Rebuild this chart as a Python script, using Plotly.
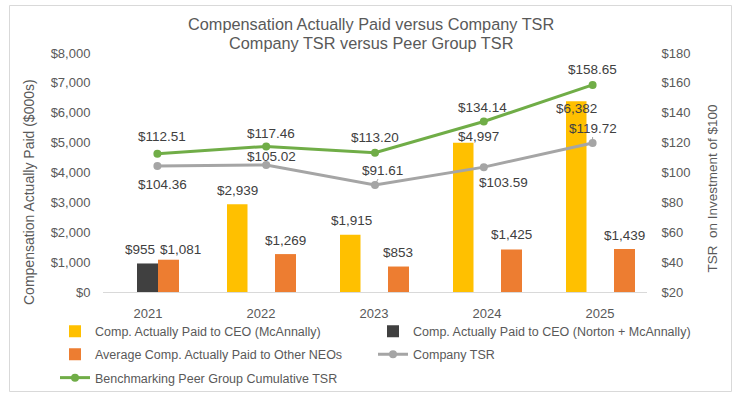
import plotly.graph_objects as go

# ---------------- data ----------------
years = ["2021", "2022", "2023", "2024", "2025"]
cap_ceo_mcannally = [None, 2939, 1915, 4997, 6382]
cap_ceo_norton_mcannally = [955, None, None, None, None]
avg_cap_other_neos = [1081, 1269, 853, 1425, 1439]
company_tsr = [104.36, 105.02, 91.61, 103.59, 119.72]
peer_tsr = [112.51, 117.46, 113.20, 134.14, 158.65]

left_ticks = [0, 1000, 2000, 3000, 4000, 5000, 6000, 7000, 8000]
left_tick_text = ["$0", "$1,000", "$2,000", "$3,000", "$4,000", "$5,000", "$6,000", "$7,000", "$8,000"]
right_ticks = [20, 40, 60, 80, 100, 120, 140, 160, 180]
right_tick_text = ["$20", "$40", "$60", "$80", "$100", "$120", "$140", "$160", "$180"]

# ---------------- style ----------------
W, H = 740, 396
PL, PR, PT, PB = 103, 647, 53, 292  # plot area in px
TXT = "#595959"
LBLC = "#404040"
FONT = "Liberation Sans, Arial, sans-serif"
C_YEL, C_DARK, C_ORG = "#FFC000", "#404040", "#ED7D31"
C_GRAY, C_GREEN = "#A5A5A5", "#70AD47"
BAR_PITCH = 113.0   # px between bar-group centres
BAR_C0 = 148.0      # px of first bar-group centre


def px2x(px):
    return (px - PL) / (PR - PL)


def px2y(py):
    return (PB - py) / (PB - PT)


u = 1.0 / BAR_PITCH
fig = go.Figure()
fig.add_trace(go.Bar(x=years, y=cap_ceo_mcannally, name="Comp. Actually Paid to CEO (McAnnally)",
                     marker=dict(color=C_YEL, line=dict(width=0)), offset=-34 * u, width=20.5 * u,
                     xaxis="x", yaxis="y", legend="legend", hoverinfo="skip"))
fig.add_trace(go.Bar(x=years, y=cap_ceo_norton_mcannally, name="Comp. Actually Paid to CEO (Norton + McAnnally)",
                     marker=dict(color=C_DARK, line=dict(width=0)), offset=-11 * u, width=21 * u,
                     xaxis="x", yaxis="y", legend="legend", hoverinfo="skip"))
fig.add_trace(go.Bar(x=years, y=avg_cap_other_neos, name="Average Comp. Actually Paid to Other NEOs",
                     marker=dict(color=C_ORG, line=dict(width=0)),
                     offset=[10 * u, 14 * u, 14 * u, 14 * u, 14 * u], width=21 * u,
                     xaxis="x", yaxis="y", legend="legend2", hoverinfo="skip"))
fig.add_trace(go.Scatter(x=years, y=company_tsr, name="Company TSR", mode="lines+markers",
                         line=dict(color=C_GRAY, width=3), marker=dict(color=C_GRAY, size=8),
                         xaxis="x2", yaxis="y2", legend="legend2", hoverinfo="skip"))
fig.add_trace(go.Scatter(x=years, y=peer_tsr, name="Benchmarking Peer Group Cumulative TSR", mode="lines+markers",
                         line=dict(color=C_GREEN, width=3), marker=dict(color=C_GREEN, size=8),
                         xaxis="x2", yaxis="y2", legend="legend3", hoverinfo="skip"))

ann = []
LBL = dict(family=FONT, size=13.5, color=LBLC)
C = dict(xanchor="center", yanchor="middle")

# bar value labels: (xshift, yshift) in px relative to category centre / bar top
yel_sh = [None, (-24, 14), (-23, 14), (-8.5, 6), (-24, -7)]
for i, v in enumerate(cap_ceo_mcannally):
    if v is None:
        continue
    dx, dy = yel_sh[i]
    ann.append(dict(x=i, y=v, xref="x", yref="y", text=f"${v:,}", showarrow=False,
                    xshift=dx, yshift=dy, font=LBL, **C))
for i, v in enumerate(cap_ceo_norton_mcannally):
    if v is None:
        continue
    ann.append(dict(x=i, y=v, xref="x", yref="y", text=f"${v:,}", showarrow=False,
                    xshift=-8, yshift=13.5, font=LBL, **C))
org_sh = [(32.5, 10), (24, 14), (24, 14), (24.5, 14.5), (24.5, 14)]
for i, v in enumerate(avg_cap_other_neos):
    dx, dy = org_sh[i]
    ann.append(dict(x=i, y=v, xref="x", yref="y", text=f"${v:,}", showarrow=False,
                    xshift=dx, yshift=dy, font=LBL, **C))

# line value labels
peer_sh = [(5, 17), (5, 13), (0, 15), (-1.5, 14.5), (0, 15)]
for i, v in enumerate(peer_tsr):
    dx, dy = peer_sh[i]
    ann.append(dict(x=i, y=v, xref="x2", yref="y2", text=f"${v:.2f}", showarrow=False,
                    xshift=dx, yshift=dy, font=LBL, **C))
comp_sh = [(5, -19), (5, 9), (7.5, 15), (20, -15), (0, 15)]
comp_leader = [False, False, True, False, True]
for i, v in enumerate(company_tsr):
    dx, dy = comp_sh[i]
    if comp_leader[i]:
        ann.append(dict(x=i, y=v, xref="x2", yref="y2", text=f"${v:.2f}", showarrow=True,
                        ax=dx, ay=-dy, arrowhead=0, arrowwidth=1, arrowcolor=C_GRAY, standoff=3,
                        font=LBL, **C))
    else:
        ann.append(dict(x=i, y=v, xref="x2", yref="y2", text=f"${v:.2f}", showarrow=False,
                        xshift=dx, yshift=dy, font=LBL, **C))

# title lines
TITLE_F = dict(family=FONT, size=16.3, color=TXT)
ann.append(dict(x=px2x(370.5), y=px2y(24), xref="paper", yref="paper", showarrow=False,
                text="Compensation Actually Paid versus Company TSR", font=TITLE_F, **C))
ann.append(dict(x=px2x(370.5), y=px2y(43), xref="paper", yref="paper", showarrow=False,
                text="Company TSR versus Peer Group TSR", font=TITLE_F, **C))
# axis titles
ann.append(dict(x=px2x(29), y=px2y(192), xref="paper", yref="paper", showarrow=False, textangle=-90,
                text="Compensation Actually Paid ($000s)", font=dict(family=FONT, size=14, color=TXT), **C))
ann.append(dict(x=px2x(712), y=px2y(188.5), xref="paper", yref="paper", showarrow=False, textangle=-90,
                text="TSR  on Investment of $100", font=dict(family=FONT, size=13.5, color=TXT), **C))

shapes = [dict(type="rect", xref="paper", yref="paper", x0=px2x(9.5), x1=px2x(731.5), y0=px2y(391.5),
               y1=px2y(5.5), line=dict(color="#D9D9D9", width=1), layer="below")]

TICKF = dict(family=FONT, size=13, color=TXT)
LEGF = dict(family=FONT, size=12.5, color=TXT)
leg_common = dict(orientation="h", xanchor="left", yanchor="middle", entrywidth=273,
                  entrywidthmode="pixels", itemwidth=30, font=LEGF, bgcolor="rgba(0,0,0,0)",
                  traceorder="normal")

fig.update_layout(
    width=W, height=H,
    margin=dict(l=PL, r=W - PR, t=PT, b=H - PB, pad=0, autoexpand=False),
    paper_bgcolor="white", plot_bgcolor="white",
    barmode="overlay",
    showlegend=True,
    legend=dict(x=px2x(55), y=px2y(331.7), **leg_common),
    legend2=dict(x=px2x(55), y=px2y(354.5), **leg_common),
    legend3=dict(x=px2x(55), y=px2y(378), **leg_common),
    xaxis=dict(type="category", range=[(PL - BAR_C0) / BAR_PITCH, (PR - BAR_C0) / BAR_PITCH],
               showgrid=False, zeroline=False, showline=True, linecolor="#D9D9D9", linewidth=1,
               ticks="outside", ticklen=9, tickcolor="rgba(0,0,0,0)", tickfont=TICKF),
    xaxis2=dict(type="category", range=[-0.5, 4.5], overlaying="x", anchor="y2", side="bottom",
                showticklabels=False, ticks="", showgrid=False, zeroline=False, showline=False),
    yaxis=dict(range=[0, 8000], tickmode="array", tickvals=left_ticks, ticktext=left_tick_text,
               showgrid=False, zeroline=False, showline=False,
               ticks="outside", ticklen=9, tickcolor="rgba(0,0,0,0)", tickfont=TICKF),
    yaxis2=dict(range=[20, 180], tickmode="array", tickvals=right_ticks, ticktext=right_tick_text,
                overlaying="y", side="right", anchor="x2", showgrid=False, zeroline=False, showline=False,
                ticks="outside", ticklen=11, tickcolor="rgba(0,0,0,0)", tickfont=TICKF),
    annotations=ann,
    shapes=shapes,
)

# remove the browser's default 8px body margin so the figure sits at the window origin
fig.write_html("out.html", config={"displayModeBar": False},
               post_script="document.body.style.margin='0px';")
